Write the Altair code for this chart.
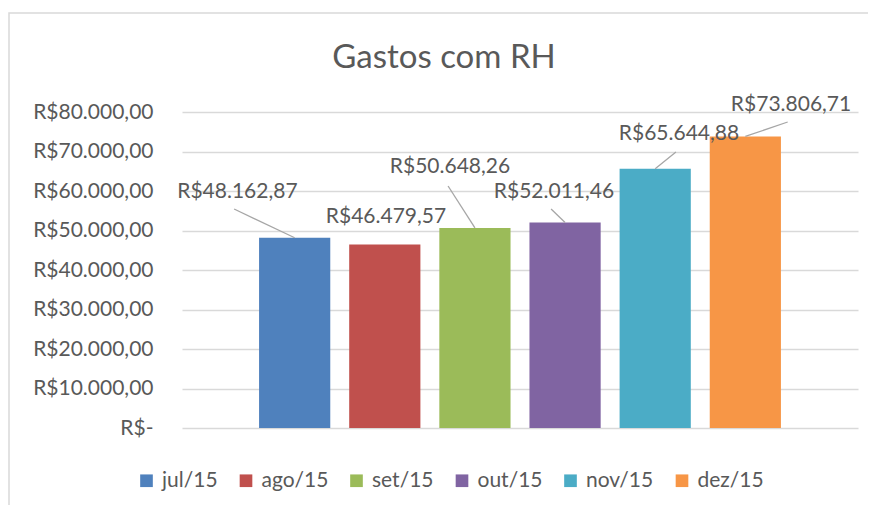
import altair as alt
import pandas as pd

# ---- data ----
months = ["jul/15", "ago/15", "set/15", "out/15", "nov/15", "dez/15"]
values = [48162.87, 46479.57, 50648.26, 52011.46, 65644.88, 73806.71]
colors = ["#4F81BD", "#C0504D", "#9BBB59", "#8064A2", "#4BACC6", "#F79646"]
y_ticks = [0, 10000, 20000, 30000, 40000, 50000, 60000, 70000, 80000]
title_text = "Gastos com RH"

# ---- manually placed data-label annotations (category units / value units) ----
label_dx = [-0.635, 0.013, -0.277, -0.123, 0.264, 0.507]
label_y = [59750, 53420, 66080, 59750, 74430, 81770]
leader_dx = [-0.672, None, -0.298, -0.155, 0.23, 0.47]
leader_y = [55440, None, 61270, 55440, 69870, 77470]


def brl(v):
    s = f"{v:,.2f}".replace(",", "#").replace(".", ",").replace("#", ".")
    return "R$" + s


df = pd.DataFrame({
    "month": months,
    "value": values,
    "idx": list(range(len(months))),
    "label": [brl(v) for v in values],
    "ldx": label_dx,
    "ly": label_y,
    "kdx": leader_dx,
    "ky": leader_y,
})

FONT = "Lato"
TXT = "#595959"
FS = 21
xscale = alt.Scale(domain=[-1.25, 6.25], nice=False, zero=False)
yscale = alt.Scale(domain=[0, 80000], nice=False)
y_axis = alt.Axis(values=y_ticks, title=None, domain=False, ticks=False,
                  labelFontSize=FS, labelFont=FONT, labelColor=TXT,
                  labelPadding=29, gridColor="#D9D9D9", gridWidth=1.5,
                  labelOverlap=False, tickCount=9,
                  labelExpr="datum.value == 0 ? 'R$-' : 'R$' + format(datum.value/1000, 'd') + '.000,00'")

base = alt.Chart(df)

border = alt.Chart(alt.Data(values=[{}])).mark_rect(
    fill=None, stroke="#D9D9D9", strokeWidth=1.5
).encode(
    x=alt.value(9 - 182), x2=alt.value(700),
    y=alt.value(13 - 112), y2=alt.value(500),
)

title = alt.Chart(alt.Data(values=[{"t": title_text}])).mark_text(
    fontSize=33, font=FONT, color=TXT, align="center", baseline="middle"
).encode(x=alt.value(444 - 182), y=alt.value(58 - 112), text="t:N")

bars = base.transform_calculate(
    x0="datum.idx - 0.395", x1="datum.idx + 0.395"
).mark_rect().encode(
    x=alt.X("x0:Q", scale=xscale, axis=None),
    x2="x1:Q",
    y=alt.Y("value:Q", scale=yscale, axis=y_axis),
    y2=alt.datum(0),
    color=alt.Color("month:N", sort=months,
                    scale=alt.Scale(domain=months, range=colors),
                    legend=alt.Legend(title=None, orient="none", direction="horizontal",
                                      legendX=-46, legendY=358,
                                      symbolType="square", symbolSize=160,
                                      symbolStrokeWidth=0, labelFontSize=FS,
                                      labelFont=FONT, labelColor=TXT,
                                      labelOffset=5, columnPadding=17.5)),
)

leaders = base.transform_filter("datum.kdx != null").transform_calculate(
    lx="datum.idx + datum.kdx"
).mark_rule(color="#A6A6A6", strokeWidth=1.3).encode(
    x=alt.X("lx:Q", scale=xscale, axis=None),
    y=alt.Y("ky:Q", scale=yscale, axis=y_axis),
    x2=alt.X2("idx:Q"),
    y2=alt.Y2("value:Q"),
)

labels = base.transform_calculate(
    tx="datum.idx + datum.ldx"
).mark_text(fontSize=FS, font=FONT, color=TXT, align="center", baseline="middle").encode(
    x=alt.X("tx:Q", scale=xscale, axis=None),
    y=alt.Y("ly:Q", scale=yscale, axis=y_axis),
    text="label:N",
)

chart = alt.layer(border, title, bars, leaders, labels).properties(
    width=676, height=316,
    autosize=alt.AutoSizeParams(type="none"),
    padding={"left": 174, "top": 104, "right": 10, "bottom": 77},
).configure_view(stroke=None)

chart.save("out.html", embed_options={"renderer": "svg", "actions": False})
